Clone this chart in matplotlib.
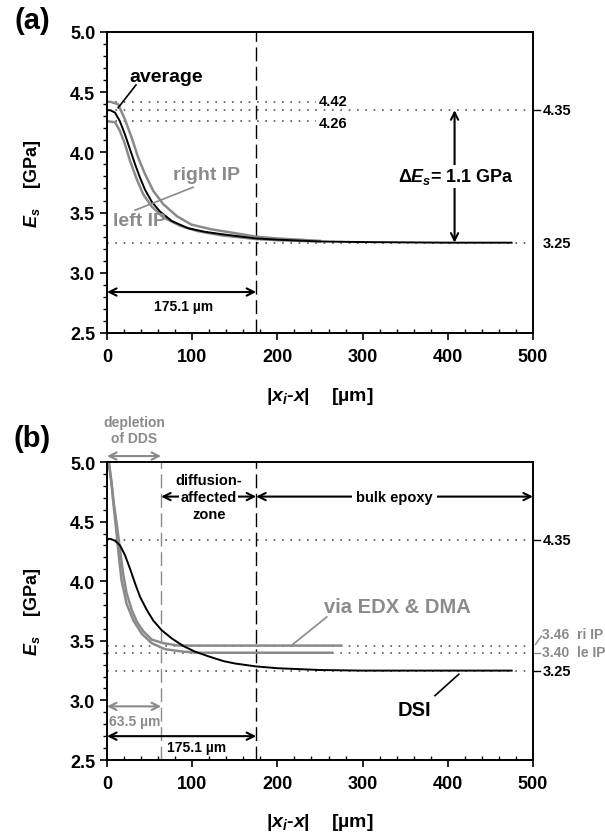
import matplotlib
matplotlib.use("Agg")
import matplotlib.pyplot as plt
from matplotlib.ticker import MultipleLocator

plt.rcParams['font.family'] = ['Liberation Sans', 'DejaVu Sans']
plt.rcParams['font.weight'] = 'bold'
plt.rcParams['axes.labelweight'] = 'bold'
plt.rcParams['mathtext.fontset'] = 'custom'
plt.rcParams['mathtext.it'] = 'Liberation Sans:italic:bold'
plt.rcParams['mathtext.rm'] = 'Liberation Sans:bold'

# ---- data ----
# panel (a): DSI moduli across the interphase
avg_x = [0, 4, 9.4, 15, 21, 27, 33, 38.7, 44.6, 52.5, 62, 76, 95, 115, 135, 175, 200, 250, 300, 400, 475]
avg_e = [4.35, 4.35, 4.33, 4.26, 4.15, 4.025, 3.90, 3.79, 3.69, 3.59, 3.51, 3.43, 3.37, 3.34, 3.32,
         3.285, 3.275, 3.26, 3.255, 3.25, 3.25]
right_x = [0, 4, 13, 21, 29, 36.7, 44.6, 54.3, 66, 82, 99, 123, 136.5, 175, 200, 250]
right_e = [4.42, 4.42, 4.40, 4.275, 4.12, 3.955, 3.82, 3.68, 3.57, 3.47, 3.40, 3.36, 3.345, 3.30,
           3.285, 3.265]
left_x = [0, 4, 9.4, 15, 21, 27, 35, 42.6, 52.5, 66, 86, 107, 135, 175, 200, 250]
left_e = [4.26, 4.255, 4.25, 4.18, 4.07, 3.93, 3.775, 3.65, 3.55, 3.46, 3.39, 3.345, 3.31, 3.28,
          3.27, 3.26]

# panel (b): DSI vs EDX & DMA estimate
dsi_x = [0, 4, 9.4, 15.3, 21, 27, 33, 38.7, 46.6, 54.3, 64, 76, 89.6, 103, 119, 136.5, 150, 175, 200,
         250, 300, 475]
dsi_e = [4.355, 4.355, 4.34, 4.30, 4.22, 4.105, 3.98, 3.87, 3.76, 3.67, 3.59, 3.52, 3.456, 3.41, 3.37,
         3.33, 3.31, 3.285, 3.27, 3.255, 3.25, 3.25]
edx_ri_x = [2, 5, 8, 11.4, 15.3, 19, 23, 29, 35, 42.6, 52.5, 66, 84, 275]
edx_ri_e = [5.0, 4.85, 4.65, 4.48, 4.26, 4.06, 3.90, 3.76, 3.66, 3.58, 3.51, 3.48, 3.46, 3.46]
edx_le_x = [2, 5, 8, 11, 14, 17, 23, 31, 40.7, 52.5, 68, 88, 107, 264]
edx_le_e = [5.0, 4.83, 4.62, 4.42, 4.20, 4.01, 3.81, 3.67, 3.56, 3.48, 3.43, 3.41, 3.40, 3.40]

e_avg0, e_right0, e_left0, e_bulk = 4.35, 4.42, 4.26, 3.25
e_ri_edx, e_le_edx = 3.46, 3.40
x_zone, x_dds = 175.1, 63.5

GRAY = '#8a8a8a'
DOTC = '#555555'
DOT = (0, (1, 4))
DASH = (0, (10, 4))


def setup(ax):
    ax.set_xlim(0, 500)
    ax.set_ylim(2.5, 5.0)
    ax.xaxis.set_major_locator(MultipleLocator(100))
    ax.xaxis.set_minor_locator(MultipleLocator(20))
    ax.yaxis.set_major_locator(MultipleLocator(0.5))
    ax.yaxis.set_minor_locator(MultipleLocator(0.1))
    ax.yaxis.set_major_formatter(plt.FormatStrFormatter('%.1f'))
    ax.tick_params(axis='x', which='major', direction='out', length=5, width=1.2, labelsize=13, pad=6)
    ax.tick_params(axis='x', which='minor', direction='in', length=3, width=1)
    ax.tick_params(axis='y', which='major', direction='out', length=5, width=1.2, labelsize=13)
    ax.tick_params(axis='y', which='minor', direction='out', length=3, width=1)
    for s in ax.spines.values():
        s.set_linewidth(1.4)
    ax.set_ylabel('$E_s$    [GPa]', fontsize=13)
    ax.yaxis.set_label_coords(-0.175, 0.5)
    ax.yaxis.label.set_verticalalignment('center')
    ax.set_xlabel('|$x_i$-$x$|    [µm]', fontsize=14)
    ax.xaxis.set_label_coords(0.5, -0.172)


def darrow(ax, p0, p1, color='k', lw=1.5):
    ax.annotate('', xy=p1, xytext=p0, annotation_clip=False,
                arrowprops=dict(arrowstyle='<->', color=color, lw=lw, shrinkA=0, shrinkB=0,
                                mutation_scale=13))


def right_label(ax, y, text, color='k', ty=None, tick=True, size=10.5):
    if tick:
        ax.plot([500, 508], [y, y], color=color, lw=1, clip_on=False)
    ax.text(511, y if ty is None else ty, text, color=color, fontsize=size, va='center', clip_on=False)


fig = plt.figure(figsize=(6.05, 8.37), dpi=100)
ax1 = fig.add_axes([0.1769, 0.601, 0.704, 0.3596])
ax2 = fig.add_axes([0.1769, 0.0908, 0.704, 0.356])
fig.text(0.053, 0.975, '(a)', fontsize=21, ha='center', va='center')
fig.text(0.053, 0.4755, '(b)', fontsize=21, ha='center', va='center')

# ---------------- panel (a) ----------------
setup(ax1)
ax1.plot([0, 245], [e_right0] * 2, color=DOTC, lw=1.2, ls=DOT)
ax1.plot([0, 245], [e_left0] * 2, color=DOTC, lw=1.2, ls=DOT)
ax1.plot([0, 500], [e_avg0] * 2, color=DOTC, lw=1.2, ls=DOT)
ax1.plot([0, 500], [e_bulk] * 2, color=DOTC, lw=1.2, ls=DOT)
ax1.axvline(x_zone, color='k', lw=1, ls=DASH)
ax1.plot(right_x, right_e, color=GRAY, lw=1.8)
ax1.plot(left_x, left_e, color=GRAY, lw=1.8)
ax1.plot(avg_x, avg_e, color='k', lw=1.4)

ax1.text(249, 4.425, '4.42', fontsize=10.5, va='center')
ax1.text(249, 4.24, '4.26', fontsize=10.5, va='center')
right_label(ax1, e_avg0, '4.35')
right_label(ax1, e_bulk, '3.25', tick=False)

darrow(ax1, (408, e_avg0), (408, e_bulk))
ax1.text(410, 3.80, 'Δ$E_s$= 1.1 GPa', fontsize=13, ha='center', va='center',
         bbox=dict(facecolor='white', edgecolor='none', pad=1))

darrow(ax1, (0, 2.84), (x_zone, 2.84))
ax1.text(90, 2.72, '175.1 µm', fontsize=10, ha='center', va='center')

ax1.text(70, 4.63, 'average', fontsize=14, ha='center', va='center')
ax1.plot([13, 34], [4.37, 4.56], color='k', lw=1.2)
ax1.text(117, 3.82, 'right IP', fontsize=14, ha='center', va='center', color=GRAY)
ax1.text(38, 3.43, 'left IP', fontsize=14, ha='center', va='center', color=GRAY)
ax1.plot([33, 101], [3.52, 3.71], color=GRAY, lw=1.2)

# ---------------- panel (b) ----------------
setup(ax2)
for lev in (e_avg0, e_ri_edx, e_le_edx, e_bulk):
    ax2.plot([0, 500], [lev] * 2, color=DOTC, lw=1.2, ls=DOT)
ax2.axvline(x_zone, color='k', lw=1, ls=DASH)
ax2.axvline(x_dds, color=GRAY, lw=1, ls=DASH)
ax2.plot(edx_ri_x, edx_ri_e, color=GRAY, lw=1.8)
ax2.plot(edx_le_x, edx_le_e, color=GRAY, lw=1.8)
ax2.plot(dsi_x, dsi_e, color='k', lw=1.4)

right_label(ax2, e_avg0, '4.35')
right_label(ax2, e_bulk, '3.25')
right_label(ax2, e_le_edx, '3.40  le IP', color=GRAY, ty=3.41, size=10)
ax2.text(511, 3.56, '3.46  ri IP', color=GRAY, fontsize=10, va='center', clip_on=False)
ax2.plot([503, 510], [e_ri_edx + 0.01, 3.54], color=GRAY, lw=1, clip_on=False)

# zone arrows at the top
darrow(ax2, (x_dds, 4.71), (x_zone, 4.71))
ax2.text((x_dds + x_zone) / 2, 4.71, 'affected', fontsize=10.5, ha='center', va='center',
         bbox=dict(facecolor='white', edgecolor='none', pad=1))
ax2.text((x_dds + x_zone) / 2, 4.85, 'diffusion-', fontsize=10.5, ha='center', va='center')
ax2.text((x_dds + x_zone) / 2, 4.56, 'zone', fontsize=10.5, ha='center', va='center')
darrow(ax2, (x_zone, 4.71), (500, 4.71))
ax2.text((x_zone + 500) / 2, 4.71, 'bulk epoxy', fontsize=10.5, ha='center', va='center',
         bbox=dict(facecolor='white', edgecolor='none', pad=3))

darrow(ax2, (0, 5.05), (x_dds, 5.05), color=GRAY)
ax2.text(x_dds / 2, 5.34, 'depletion', fontsize=10, ha='center', va='center', color=GRAY, clip_on=False)
ax2.text(x_dds / 2, 5.20, 'of DDS', fontsize=10, ha='center', va='center', color=GRAY, clip_on=False)

# bottom arrows
darrow(ax2, (0, 2.95), (x_dds, 2.95), color=GRAY)
ax2.text(32, 2.83, '63.5 µm', fontsize=10, ha='center', va='center', color=GRAY)
darrow(ax2, (0, 2.70), (x_zone, 2.70))
ax2.text(105, 2.61, '175.1 µm', fontsize=10, ha='center', va='center')

ax2.text(341, 3.79, 'via EDX & DMA', fontsize=14.5, ha='center', va='center', color=GRAY)
ax2.plot([258, 218], [3.70, 3.47], color=GRAY, lw=1.2)
ax2.text(361, 2.92, 'DSI', fontsize=14.5, ha='center', va='center')
ax2.plot([385, 413], [3.04, 3.22], color='k', lw=1.2)

fig.savefig('out.png', dpi=100)
